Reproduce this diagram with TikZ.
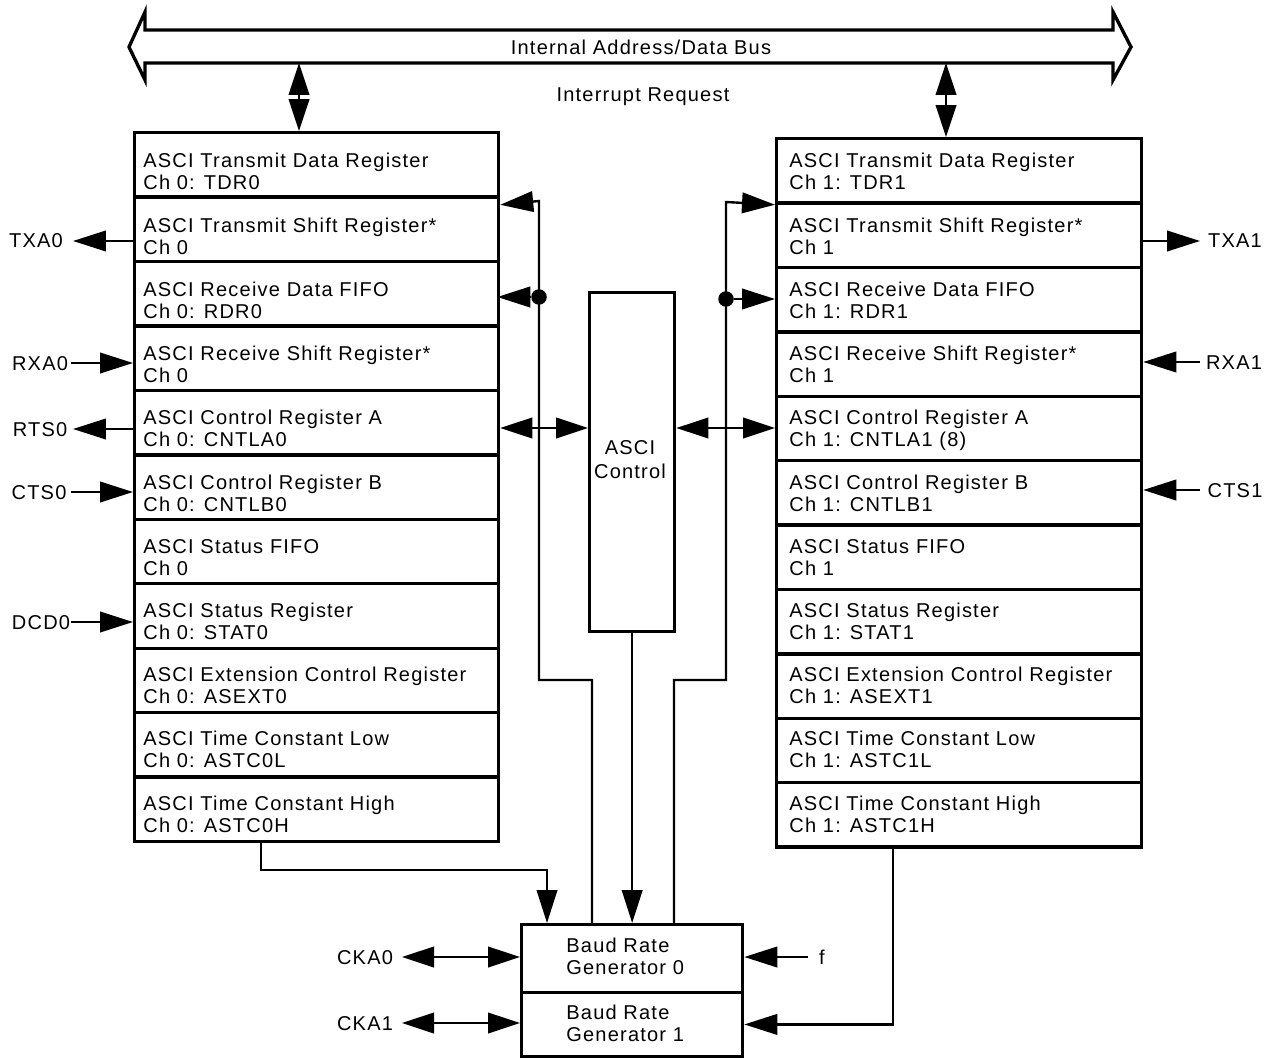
\documentclass[tikz,border=0pt]{standalone}
\usepackage{fontspec}
\setmainfont{Liberation Sans}[LetterSpace=6]
\usetikzlibrary{arrows.meta,calc}
\begin{document}
\begin{tikzpicture}[x=0.02cm, y=-0.02cm,
  every node/.style={font=\fontsize{11.4}{13}\selectfont, inner sep=0pt},
  txt/.style={anchor=base west},
  lbl/.style={anchor=base},
  reg/.style={draw, line width=1.9pt, rectangle, inner sep=0pt, anchor=north west},
  wire/.style={line width=1.35pt},
  arr/.style={wire, -{Triangle[length=0.66cm,width=0.41cm]}},
  dbl/.style={wire, {Triangle[length=0.64cm,width=0.41cm]}-{Triangle[length=0.64cm,width=0.41cm]}},
  jdot/.style={circle, fill, minimum size=0.31cm}]
\useasboundingbox (0,0) rectangle (1273,1057);

% internal bus
\draw[line width=1.9pt, line join=miter] (129,47) -- (145,12) -- (145,30) -- (1113,30) -- (1113,12)
  -- (1131,47) -- (1113,80) -- (1113,63) -- (145,63) -- (145,80) -- cycle;
\node[lbl] (buslbl) at (641,55) {Internal Address/Data Bus};
\node[lbl] (irq) at (643,102) {Interrupt Request};

% register columns
\foreach \i in {0,...,10} {
  \node[reg, minimum width=7.28cm, minimum height=1.289cm] (L\i) at (133,{131+64.45*\i}) {};
  \node[reg, minimum width=7.30cm, minimum height=1.288cm] (R\i) at (775,{137+64.4*\i}) {};
}
\foreach \i/\ta/\tb in {
  0/{ASCI Transmit Data Register}/{Ch 0: TDR0},
  1/{ASCI Transmit Shift Register*}/{Ch 0},
  2/{ASCI Receive Data FIFO}/{Ch 0: RDR0},
  3/{ASCI Receive Shift Register*}/{Ch 0},
  4/{ASCI Control Register A}/{Ch 0: CNTLA0},
  5/{ASCI Control Register B}/{Ch 0: CNTLB0},
  6/{ASCI Status FIFO}/{Ch 0},
  7/{ASCI Status Register}/{Ch 0: STAT0},
  8/{ASCI Extension Control Register}/{Ch 0: ASEXT0},
  9/{ASCI Time Constant Low}/{Ch 0: ASTC0L},
  10/{ASCI Time Constant High}/{Ch 0: ASTC0H}} {
  \node[txt] (LTa\i) at (143,{168+64.2*\i}) {\ta};
  \node[txt] (LTb\i) at (143,{190+64.2*\i}) {\tb};
}
\foreach \i/\ta/\tb in {
  0/{ASCI Transmit Data Register}/{Ch 1: TDR1},
  1/{ASCI Transmit Shift Register*}/{Ch 1},
  2/{ASCI Receive Data FIFO}/{Ch 1: RDR1},
  3/{ASCI Receive Shift Register*}/{Ch 1},
  4/{ASCI Control Register A}/{Ch 1: CNTLA1 (8)},
  5/{ASCI Control Register B}/{Ch 1: CNTLB1},
  6/{ASCI Status FIFO}/{Ch 1},
  7/{ASCI Status Register}/{Ch 1: STAT1},
  8/{ASCI Extension Control Register}/{Ch 1: ASEXT1},
  9/{ASCI Time Constant Low}/{Ch 1: ASTC1L},
  10/{ASCI Time Constant High}/{Ch 1: ASTC1H}} {
  \node[txt] (RTa\i) at (789,{168+64.2*\i}) {\ta};
  \node[txt] (RTb\i) at (789,{190+64.2*\i}) {\tb};
}

% ASCI control
\node[reg, minimum width=1.7cm, minimum height=6.78cm] (ctl) at (588,291) {};
\node[lbl] (ctlA) at (630,454) {ASCI};
\node[lbl] (ctlB) at (630,478) {Control};

% baud rate generators
\node[reg, minimum width=4.42cm, minimum height=1.36cm] (B0) at (520,923) {};
\node[reg, minimum width=4.42cm, minimum height=1.27cm] (B1) at (520,991) {};
\node[txt] (B0a) at (566,952) {Baud Rate};
\node[txt] (B0b) at (566,974) {Generator 0};
\node[txt] (B1a) at (566,1019) {Baud Rate};
\node[txt] (B1b) at (566,1041) {Generator 1};

% bus connections
\coordinate (busL) at (299,63);
\coordinate (busR) at (946,63);
\draw[dbl] (busL) -- (busL |- L0.north);
\draw[dbl] (busR) -- (busR |- R0.north);

% left pins
\coordinate (txa0) at (73,241);
\coordinate (rxa0) at (71,363);
\coordinate (rts0) at (73,429);
\coordinate (cts0) at (71,492);
\coordinate (dcd0) at (71,622);
\draw[arr] (L1.west |- txa0) -- (txa0);
\draw[arr] (rxa0) -- (L3.west |- rxa0);
\draw[arr] (L4.west |- rts0) -- (rts0);
\draw[arr] (cts0) -- (L5.west |- cts0);
\draw[arr] (dcd0) -- (L7.west |- dcd0);
\node[lbl] (txa0l) at (36,248) {TXA0};
\node[lbl] (rxa0l) at (40,370) {RXA0};
\node[lbl] (rts0l) at (40,436) {RTS0};
\node[lbl] (cts0l) at (39,499) {CTS0};
\node[lbl] (dcd0l) at (41,629) {DCD0};

% right pins
\coordinate (txa1) at (1200,241);
\coordinate (rxa1) at (1200,362);
\coordinate (cts1) at (1200,490);
\draw[arr] (R1.east |- txa1) -- (txa1);
\draw[arr] (rxa1) -- (R3.east |- rxa1);
\draw[arr] (cts1) -- (R5.east |- cts1);
\node[lbl] (txa1l) at (1235,248) {TXA1};
\node[lbl] (rxa1l) at (1234,369) {RXA1};
\node[lbl] (cts1l) at (1235,497) {CTS1};

% centre wiring
\draw[arr] (592,923) -- (592,680) -- (539,680) -- (539,201) -- ($(L0.south east)+(0,6)$);
\draw[arr] (674,923) -- (674,680) -- (726,680) -- (726,202) -- (R0.south west);
\node[jdot] (dL) at (539,297) {};
\node[jdot] (dR) at (726,299) {};
\draw[arr] (dL) -- ($(L2.east |- dL)+(-3,0)$);
\draw[arr] (dR) -- (R2.west |- dR);
\coordinate (ya) at (630,428);
\draw[dbl] (L4.east |- ya) -- (ctl.west |- ya);
\draw[dbl] (ctl.east |- ya) -- (R4.west |- ya);
\draw[arr] (ctl.south) -- (ctl.south |- B0.north);

% time constant to baud rate generators
\draw[arr] ($(L10.south west)+(128,0)$) -- ++(0,27) -| ($(B0.north west)+(27,0)$);
\draw[arr] ($(R10.south west)+(118,0)$) |- (B1.east);

% clock pins
\coordinate (fin) at (808,957);
\coordinate (cka0) at (402,957);
\coordinate (cka1) at (402,1023);
\draw[arr] (fin) -- (B0.east |- fin);
\draw[dbl] (cka0) -- (B0.west |- cka0);
\draw[dbl] (cka1) -- (B1.west |- cka1);
\node[lbl] (fl) at (822,964) {f};
\node[lbl] (cka0l) at (365,964) {CKA0};
\node[lbl] (cka1l) at (365,1030) {CKA1};
\end{tikzpicture}
\end{document}
